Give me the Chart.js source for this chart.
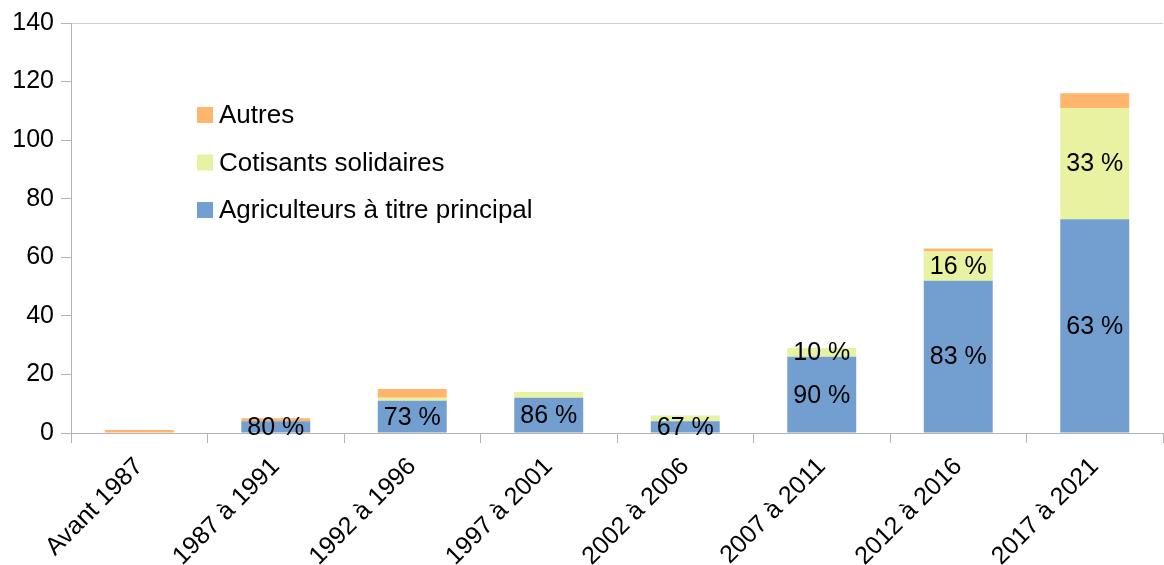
<!DOCTYPE html>
<html>
<head>
<meta charset="utf-8">
<script src="https://cdn.jsdelivr.net/npm/chart.js@4"></script>
<style>
  html, body { margin: 0; padding: 0; background: #fff; overflow: hidden; }
  #wrap { width: 1164px; height: 565px; }
</style>
</head>
<body>
<div id="wrap"><canvas id="mainChart"></canvas></div>
<script>
// Données
const periodes = ['Avant 1987', '1987 à 1991', '1992 à 1996', '1997 à 2001', '2002 à 2006', '2007 à 2011', '2012 à 2016', '2017 à 2021'];
const agriculteurs = [0, 4, 11, 12, 4, 26, 52, 73];
const cotisants = [0, 0, 1, 2, 2, 3, 10, 38];
const autres = [1, 1, 3, 0, 0, 0, 1, 5];
// Étiquettes de pourcentage affichées (null = pas d'étiquette)
const etiqAgri = [null, '80 %', '73 %', '86 %', '67 %', '90 %', '83 %', '63 %'];
const etiqCotis = [null, null, null, null, null, '10 %', '16 %', '33 %'];
const yTicks = [0, 20, 40, 60, 80, 100, 120, 140];

const FONT = "'Liberation Sans', Arial, sans-serif";
const AXE = '#b3b3b3';

// Étiquettes au centre des segments
const pluginEtiquettes = {
    id: 'etiquettes',
    afterDatasetsDraw(chart) {
        const ctx = chart.ctx;
        ctx.save();
        ctx.font = '25px ' + FONT;
        ctx.fillStyle = '#000';
        ctx.textAlign = 'center';
        ctx.textBaseline = 'middle';
        [[0, etiqAgri], [1, etiqCotis]].forEach(([idx, etiq]) => {
            const meta = chart.getDatasetMeta(idx);
            meta.data.forEach((bar, i) => {
                if (!etiq[i]) return;
                const yc = (bar.y + bar.base) / 2;
                ctx.fillText(etiq[i], bar.x, yc + 1);
            });
        });
        ctx.restore();
    }
};

// Légende dans la zone du graphique (ordre inversé)
const pluginLegende = {
    id: 'legendeInterne',
    afterDraw(chart) {
        const ctx = chart.ctx;
        const area = chart.chartArea;
        const x0 = area.left + 126;
        const y0 = area.top + 92;
        const pas = 47.5;
        ctx.save();
        ctx.font = '26px ' + FONT;
        ctx.textBaseline = 'middle';
        ctx.textAlign = 'left';
        const ds = chart.data.datasets.slice().reverse();
        ds.forEach((d, i) => {
            const y = y0 + i * pas;
            ctx.fillStyle = d.backgroundColor;
            ctx.fillRect(x0, y - 8, 16, 16);
            ctx.fillStyle = '#000';
            ctx.fillText(d.label, x0 + 22, y + 1);
        });
        ctx.restore();
    }
};

const ctx = document.getElementById('mainChart').getContext('2d');
new Chart(ctx, {
    type: 'bar',
    data: {
        labels: periodes,
        datasets: [
            { label: 'Agriculteurs à titre principal', data: agriculteurs, backgroundColor: '#729fcf' },
            { label: 'Cotisants solidaires', data: cotisants, backgroundColor: '#e8f2a1' },
            { label: 'Autres', data: autres, backgroundColor: '#ffb66c' }
        ]
    },
    options: {
        responsive: true,
        maintainAspectRatio: false,
        animation: false,
        layout: { padding: { top: 23, right: 1, left: 0, bottom: 0 } },
        datasets: { bar: { categoryPercentage: 1, barPercentage: 0.505 } },
        plugins: {
            legend: { display: false },
            tooltip: { enabled: false }
        },
        scales: {
            x: {
                stacked: true,
                grid: { offset: true, drawOnChartArea: false, tickLength: 10, tickColor: AXE, lineWidth: 1 },
                border: { color: AXE },
                ticks: {
                    color: '#000',
                    font: { family: FONT, size: 25 },
                    minRotation: 45,
                    maxRotation: 45,
                    padding: 9
                },
                afterFit: (s) => { s.height = 132; }
            },
            y: {
                stacked: true,
                min: 0,
                max: 140,
                afterBuildTicks: (s) => { s.ticks = yTicks.map(v => ({ value: v })); },
                grid: {
                    drawOnChartArea: true,
                    color: (c) => (c.tick && c.tick.value === 140 ? '#cfcfcf' : 'rgba(0,0,0,0)'),
                    tickColor: AXE,
                    tickLength: 10,
                    lineWidth: 1
                },
                border: { color: AXE },
                ticks: {
                    color: '#000',
                    font: { family: FONT, size: 25 },
                    padding: 7
                },
                afterFit: (s) => { s.width = 71; }
            }
        }
    },
    plugins: [pluginEtiquettes, pluginLegende]
});
</script>
</body>
</html>
